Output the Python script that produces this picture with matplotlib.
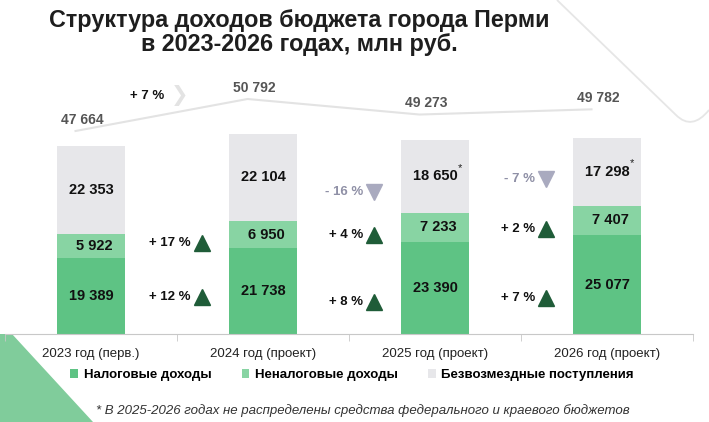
import numpy as np
import matplotlib
matplotlib.use("Agg")
from matplotlib import pyplot as plt
from matplotlib.patches import Polygon, PathPatch
from matplotlib.path import Path

plt.rcParams['font.family'] = ['Liberation Sans', 'DejaVu Sans']

years = ["2023 год (перв.)", "2024 год (проект)", "2025 год (проект)", "2026 год (проект)"]
tax = [19389, 21738, 23390, 25077]
nontax = [5922, 6950, 7233, 7407]
grants = [22353, 22104, 18650, 17298]
totals = [47664, 50792, 49273, 49782]
grant_note = [False, False, True, True]

# changes between neighbouring years
tax_change = ["+ 12 %", "+ 8 %", "+ 7 %"]
nontax_change = ["+ 17 %", "+ 4 %", "+ 2 %"]
grant_change = [None, "- 16 %", "- 7 %"]
total_change = "+ 7 %"

series = ["Налоговые доходы", "Неналоговые доходы", "Безвозмездные поступления"]

# layout (heights of the change marks, in bar units)
tax_change_y = [9380, 8110, 9130]
nontax_change_y = [23070, 25100, 26620]
grant_change_y = [None, 36000, 39300]

c_tax = "#5ec384"
c_nontax = "#88d4a3"
c_grant = "#e7e7ea"
c_up = "#1f5c38"
c_down = "#a9aabf"

W, H = 709, 422
fig = plt.figure(figsize=(W / 100, H / 100), dpi=100)

# decorations drawn in pixel space
deco = fig.add_axes([0, 0, 1, 1], zorder=0)
deco.set_xlim(0, W)
deco.set_ylim(H, 0)
deco.axis("off")
deco.add_patch(Polygon([(0, 334), (12, 334), (93, 422), (0, 422)], closed=True,
                       color="#80cc9b", lw=0))
curve = Path([(557, 0), (676, 115), (692, 131), (709, 110)],
             [Path.MOVETO, Path.LINETO, Path.CURVE3, Path.CURVE3])
deco.add_patch(PathPatch(curve, fill=False, edgecolor="#e6e6e6", lw=1.3))

base = 334
scale = 0.003944
ax = fig.add_axes([5 / W, (H - base) / H, 688 / W, base / H], zorder=2)
ax.patch.set_alpha(0)
x = np.arange(len(years))
width = 0.395

b1 = ax.bar(x, tax, width, color=c_tax, label=series[0])
b2 = ax.bar(x, nontax, width, bottom=tax, color=c_nontax, label=series[1])
bottom3 = [a + b for a, b in zip(tax, nontax)]
b3 = ax.bar(x, grants, width, bottom=bottom3, color=c_grant, label=series[2])

ax.set_xlim(-0.5, 3.5)
ax.set_ylim(0, base / scale)


def fmt(v):
    return f"{v:,}".replace(",", " ")


for i in range(len(years)):
    ax.text(x[i], tax[i] / 2, fmt(tax[i]), ha="center", va="center",
            fontsize=10.5, fontweight="bold", color="#111111")
    ax.text(x[i] + 0.02, tax[i] + nontax[i] / 2, fmt(nontax[i]), ha="center", va="center",
            fontsize=10.5, fontweight="bold", color="#111111")
    yg = bottom3[i] + grants[i] / 2
    ax.text(x[i], yg, fmt(grants[i]), ha="center", va="center",
            fontsize=10.5, fontweight="bold", color="#111111")
    if grant_note[i]:
        ax.annotate("*", (x[i], yg), xytext=(18, 6), textcoords="offset points",
                    ha="center", va="center", fontsize=8, color="#222222")


def change_mark(gap, y, label, up):
    xm = gap + 0.5 + 0.145
    ax.plot(xm, y, marker="^" if up else "v", markersize=11,
            color=c_up if up else c_down, linestyle="none")
    ax.annotate(label, (xm, y), xytext=(-8, 0), textcoords="offset points",
                ha="right", va="center", fontsize=9.5, fontweight="bold",
                color="#111111" if up else "#8f90a6")


for g in range(3):
    change_mark(g, tax_change_y[g], tax_change[g], True)
    change_mark(g, nontax_change_y[g], nontax_change[g], True)
    if grant_change[g]:
        change_mark(g, grant_change_y[g], grant_change[g], False)

# total line on its own scale
ax2 = ax.twinx()
ax2.set_ylim(27820, 60469)
ax2.plot(x - 0.09, totals, color="#e3e3e3", lw=1.5)
for i, t in enumerate(totals):
    ax2.annotate(fmt(t), (x[i] - 0.05, t), xytext=(0, 8), textcoords="offset points",
                 ha="center", va="center", fontsize=10, fontweight="bold", color="#555555")
ax2.axis("off")

ax.annotate(total_change, (0.517, 60345), xytext=(-11, 0), textcoords="offset points",
            ha="right", va="center", fontsize=9.5, fontweight="bold", color="#111111")
ax.text(0.517, 60345, "❯", ha="center", va="center", fontsize=15,
        color="#e3e3e3", family="DejaVu Sans")

for s in ["top", "left", "right"]:
    ax.spines[s].set_visible(False)
ax.spines["bottom"].set_color("#c8c8c8")
ax.set_yticks([])
ax.set_xticks(x)
ax.set_xticklabels(years, fontsize=9.5, color="#222222")
ax.tick_params(axis="x", which="major", length=0, pad=10)
ax.set_xticks([-0.5, 0.5, 1.5, 2.5, 3.5], minor=True)
ax.tick_params(axis="x", which="minor", length=5, color="#c8c8c8")

fig.legend(handles=[b1, b2, b3], loc="center", bbox_to_anchor=(352 / W, 1 - 375 / H),
           ncol=3, frameon=False, prop={"size": 9.5, "weight": "bold"},
           handlelength=0.6, handleheight=0.6, handletextpad=0.4, columnspacing=2.3)

fig.text(299 / W, 1 - 21 / H, "Структура доходов бюджета города Перми",
         ha="center", va="center", fontsize=16.8, fontweight="bold", color="#1e1e1e")
fig.text(299 / W, 1 - 45 / H, "в 2023-2026 годах, млн руб.",
         ha="center", va="center", fontsize=16.8, fontweight="bold", color="#1e1e1e")

fig.text(363 / W, 1 - 411 / H,
         "* В 2025-2026 годах не распределены средства федерального и краевого бюджетов",
         ha="center", va="center", fontsize=9.5, style="italic", color="#333333")

fig.savefig("out.png", dpi=100)
